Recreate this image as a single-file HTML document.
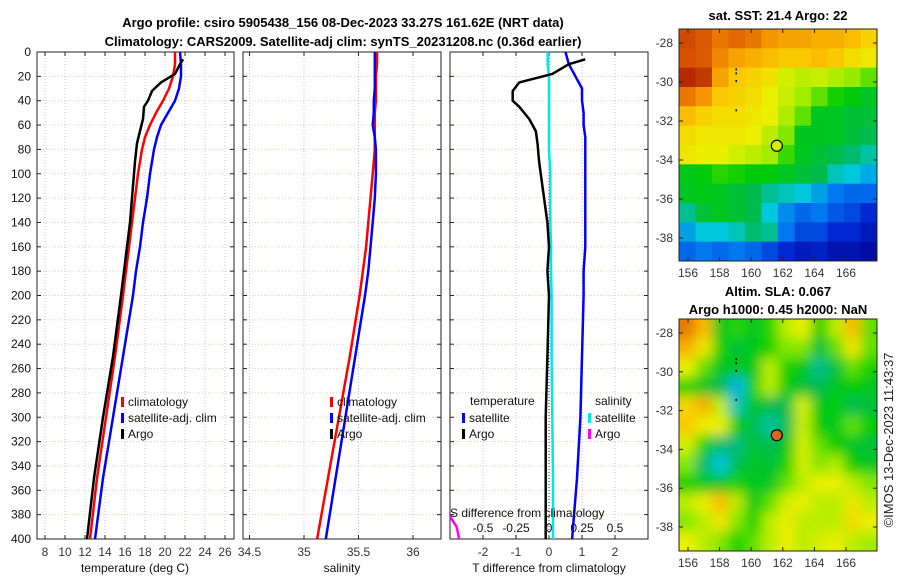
<!DOCTYPE html>
<html><head><meta charset="utf-8"><style>
html,body{margin:0;padding:0;background:#fff;}
svg{display:block;font-family:"Liberation Sans","DejaVu Sans",sans-serif;}
</style></head><body>
<svg id="c" width="900" height="580" viewBox="0 0 900 580">
<defs>
<filter id="blur" x="0" y="0" width="1" height="1"><feGaussianBlur stdDeviation="6"/></filter>
<clipPath id="cp1"><rect x="37" y="52" width="197" height="487"/></clipPath>
<clipPath id="cp2"><rect x="243" y="52" width="198" height="487"/></clipPath>
<clipPath id="cp3"><rect x="450" y="52" width="198" height="487"/></clipPath>
<clipPath id="cm1"><rect x="679" y="29" width="198" height="232"/></clipPath>
<clipPath id="cm2"><rect x="679" y="319" width="198" height="232"/></clipPath>
</defs>
<text x="343" y="27" text-anchor="middle" font-size="13" font-weight="bold">Argo profile: csiro 5905438_156 08-Dec-2023 33.27S 161.62E (NRT data)</text>
<text x="343" y="46" text-anchor="middle" font-size="13" font-weight="bold">Climatology: CARS2009. Satellite-adj clim: synTS_20231208.nc (0.36d earlier)</text>
<text x="778" y="20" text-anchor="middle" font-size="13" font-weight="bold">sat. SST: 21.4 Argo: 22</text>
<text x="778" y="296" text-anchor="middle" font-size="13" font-weight="bold">Altim. SLA: 0.067</text>
<text x="778" y="314" text-anchor="middle" font-size="13" font-weight="bold">Argo h1000: 0.45 h2000: NaN</text>
<text transform="translate(893,440) rotate(-90)" text-anchor="middle" font-size="13" fill="#222">©IMOS 13-Dec-2023 11:43:37</text>
<g id="plots"></g>
</svg>
<script>
// ---- data ----
const depths = [0,10,20,30,40,50,60,70,80,100,120,140,160,180,200,250,300,350,400];
const tempClim = [21.0,21.0,20.8,20.4,19.8,19.1,18.5,18.0,17.7,17.3,17.0,16.7,16.4,16.1,15.8,15.0,14.1,13.2,12.5];
const tempSat  = [21.5,21.6,21.6,21.4,21.0,20.3,19.6,19.2,18.9,18.5,18.2,17.8,17.5,17.1,16.8,15.8,14.8,13.8,13.0];
const argoDepths = [6,10,18,25,32,40,45,55,65,75,90,110,140,160,180,200,250,300,350,400];
const argoTemp = [21.8,21.5,21.0,19.6,18.7,18.3,17.9,17.8,17.5,17.2,17.0,16.8,16.5,16.2,15.9,15.6,14.8,13.8,12.9,12.2];
const salClim = [35.67,35.67,35.66,35.66,35.66,35.65,35.65,35.65,35.65,35.63,35.61,35.59,35.57,35.54,35.51,35.42,35.32,35.22,35.12];
const salSat  = [35.65,35.65,35.65,35.65,35.64,35.64,35.63,35.65,35.66,35.66,35.65,35.63,35.61,35.59,35.56,35.47,35.38,35.29,35.20];
const tDiffArgo = [1.1,0.6,0.1,-0.9,-1.1,-1.1,-0.9,-0.6,-0.4,-0.35,-0.3,-0.2,-0.05,0.0,-0.05,0.0,-0.05,-0.1,-0.1,-0.1];
const tDiffSat = [0.5,0.6,0.8,1.0,1.0,1.05,1.05,1.1,1.1,1.1,1.1,1.1,1.1,1.05,1.05,1.0,0.95,0.85,0.7];
const sDiffSat = [-0.01,-0.01,0.0,0.0,0.0,0.0,0.0,0.0,0.0,0.01,0.01,0.01,0.015,0.015,0.02,0.02,0.025,0.03,0.03];
const sArgoDepths = [370,380,390,400];
const sDiffArgo = [-0.8,-0.76,-0.7,-0.68];
const depthTicks = [0,20,40,60,80,100,120,140,160,180,200,220,240,260,280,300,320,340,360,380,400];
const tTicks = [8,10,12,14,16,18,20,22,24,26];
const sTicks = [34.5,35,35.5,36];
const dTicks = [-2,-1,0,1,2];
const sdTicks = [-0.5,-0.25,0,0.25,0.5];
const lonTicks = [156,158,160,162,164,166];
const latTicks = [-28,-30,-32,-34,-36,-38];
const sstGrid = [
[.86,.84,.8,.82,.8,.76,.74,.74,.72,.72,.7,.66],
[.85,.84,.78,.74,.72,.7,.68,.68,.7,.68,.64,.62],
[.9,.88,.74,.68,.66,.63,.58,.56,.57,.55,.53,.5],
[.8,.76,.68,.66,.64,.6,.57,.54,.5,.46,.44,.42],
[.7,.66,.64,.64,.62,.6,.55,.5,.42,.42,.4,.4],
[.64,.62,.62,.62,.6,.56,.52,.42,.42,.42,.4,.38],
[.62,.6,.6,.58,.56,.54,.48,.42,.4,.38,.36,.33],
[.43,.44,.47,.46,.44,.44,.42,.4,.38,.32,.3,.27],
[.42,.43,.42,.4,.38,.34,.32,.3,.26,.22,.2,.2],
[.34,.4,.42,.4,.38,.3,.24,.2,.22,.18,.16,.12],
[.26,.3,.3,.32,.36,.34,.22,.16,.16,.12,.12,.08],
[.2,.22,.2,.22,.2,.16,.12,.08,.1,.06,.06,.04]];
const slaGrid = [
[.8,.7,.42,.47,.42,.47,.56,.6,.45,.56,.7,.5],
[.72,.62,.46,.4,.43,.46,.52,.52,.4,.5,.62,.5],
[.6,.5,.42,.43,.42,.56,.46,.43,.34,.4,.5,.46],
[.47,.42,.38,.28,.46,.56,.45,.4,.38,.42,.45,.42],
[.65,.72,.56,.32,.42,.38,.38,.58,.42,.45,.38,.4],
[.68,.6,.6,.45,.38,.33,.38,.57,.45,.42,.5,.45],
[.58,.46,.36,.35,.4,.38,.42,.58,.5,.45,.42,.4],
[.52,.36,.3,.38,.42,.4,.46,.58,.52,.55,.45,.42],
[.46,.42,.42,.46,.42,.42,.5,.56,.6,.6,.56,.52],
[.56,.6,.7,.56,.43,.5,.58,.6,.56,.56,.62,.56],
[.52,.56,.62,.52,.46,.56,.6,.56,.56,.56,.64,.6],
[.6,.56,.52,.46,.5,.56,.6,.56,.58,.6,.56,.54]];
const argoLon = 161.62, argoLat = -33.27;

// ---- helpers ----
const NS='http://www.w3.org/2000/svg';
const root=document.getElementById('plots');
function mk(tag,attrs,parent){const e=document.createElementNS(NS,tag);for(const k in attrs)e.setAttribute(k,attrs[k]);(parent||root).appendChild(e);return e;}
const Y0=52,Y1=539;
const yD=d=>Y0+(d/400)*(Y1-Y0);
const xT=t=>45+(t-8)*10;
const xS=s=>304+(s-35)*109;
const xDT=v=>549+v*33;
const xDS=v=>549+v*132;
const mapX=lon=>688+(lon-156)*15.8;
const mapY1=lat=>43+(-28-lat)*19.5;
const mapY2=lat=>333+(-28-lat)*19.4;

function panel(x0,w,clip,xticks,xf,fmt,name){
  const g=mk('g',{});
  
  
  xticks.forEach(t=>{const x=xf(t);mk('line',{x1:x,x2:x,y1:Y0,y2:Y1,stroke:'#b8c4ee','stroke-width':1,'stroke-dasharray':'1,2'},g);
    mk('line',{x1:x,x2:x,y1:Y1,y2:Y1-4,stroke:'#222'},g);mk('line',{x1:x,x2:x,y1:Y0,y2:Y0+4,stroke:'#222'},g);
    const tx=mk('text',{x:x,y:556,'text-anchor':'middle','font-size':12,fill:'#333'},g);tx.textContent=fmt(t);});
  depthTicks.forEach(d=>{const y=yD(d);mk('line',{x1:x0,x2:x0+w,y1:y,y2:y,stroke:'#e8c8b8','stroke-width':1,'stroke-dasharray':'1,2'},g);
    mk('line',{x1:x0,x2:x0+4,y1:y,y2:y,stroke:'#222'},g);mk('line',{x1:x0+w,x2:x0+w-4,y1:y,y2:y,stroke:'#222'},g);});
  mk('rect',{x:x0,y:Y0,width:w,height:Y1-Y0,fill:'none',stroke:'#222','stroke-width':1},g);
  return g;
}
function line(g,xs,ds,xf,color,clip,name,w){
  const p=xs.map((v,i)=>xf(v).toFixed(1)+','+yD(ds[i]).toFixed(1)).join(' ');
  const e=mk('polyline',{points:p,fill:'none',stroke:color,'stroke-width':w||2.5,'stroke-linejoin':'round','clip-path':'url(#'+clip+')'},g);
  
  
}
function txt(g,x,y,s,size,anchor,name){const t=mk('text',{x:x,y:y,'font-size':size||12,'text-anchor':anchor||'start',fill:'#111'},g);t.textContent=s;
  
  return t;}
function legend(g,x,y,color,label,name){mk('rect',{x:x,y:y-9,width:3,height:10,fill:color},g);txt(g,x+7,y,label,12,'start',name);}

// panel 1
const g1=panel(37,197,'cp1',tTicks,xT,t=>t,'temperature-panel');
depthTicks.forEach(d=>txt(g1,31,yD(d)+4,String(d),12,'end','depth-tick-label'));
txt(g1,135,572,'temperature (deg C)',12,'middle','x-axis-title-temperature');
line(g1,tempClim,depths,xT,'#f00','cp1','temp-climatology-line');
line(g1,tempSat,depths,xT,'#00f','cp1','temp-satellite-line');
line(g1,argoTemp,argoDepths,xT,'#000','cp1','temp-argo-line');
legend(g1,121,406,'#f00','climatology','legend-climatology');
legend(g1,121,422,'#00f','satellite-adj. clim','legend-satellite');
legend(g1,121,438,'#000','Argo','legend-argo');

// panel 2
const g2=panel(243,198,'cp2',sTicks,xS,t=>t,'salinity-panel');
txt(g2,342,572,'salinity',12,'middle','x-axis-title-salinity');
line(g2,salClim,depths,xS,'#f00','cp2','sal-climatology-line');
line(g2,salSat,depths,xS,'#00f','cp2','sal-satellite-line');
legend(g2,330,406,'#f00','climatology','legend-climatology-sal');
legend(g2,330,422,'#00f','satellite-adj. clim','legend-satellite-sal');
legend(g2,330,438,'#000','Argo','legend-argo-sal');

// panel 3
const g3=panel(450,198,'cp3',dTicks,xDT,t=>t,'difference-panel');
mk('line',{x1:549,x2:549,y1:Y0,y2:Y1,stroke:'#333','stroke-width':1,'stroke-dasharray':'1,2'},g3);
txt(g3,549,572,'T difference from climatology',12,'middle','x-axis-title-tdiff');
line(g3,sDiffSat,depths,xDS,'#00e5ee','cp3','sal-diff-satellite-line');
line(g3,tDiffSat,depths,xDT,'#00f','cp3','temp-diff-satellite-line');
line(g3,tDiffArgo,argoDepths,xDT,'#000','cp3','temp-diff-argo-line');
line(g3,sDiffArgo,sArgoDepths,xDS,'#f0f','cp3','sal-diff-argo-line');
txt(g3,470,405,'temperature',12,'start','legend-title-temperature');
legend(g3,462,422,'#00f','satellite','legend-t-satellite');
legend(g3,462,438,'#000','Argo','legend-t-argo');
txt(g3,595,405,'salinity',12,'start','legend-title-salinity');
legend(g3,588,422,'#00e5ee','satellite','legend-s-satellite');
legend(g3,588,438,'#f0f','Argo','legend-s-argo');
txt(g3,450,517,'S difference from climatology',12,'start','s-axis-title');
sdTicks.forEach(t=>txt(g3,xDS(t),532,String(t),12,'middle','s-tick-label'));

// maps — custom colormap approximating the reference
const cmStops=[[0,[0,0,140]],[0.12,[0,40,210]],[0.22,[0,120,240]],[0.3,[0,200,220]],[0.37,[0,185,90]],[0.45,[0,205,0]],[0.53,[150,235,0]],[0.6,[235,240,0]],[0.68,[250,200,0]],[0.76,[245,150,0]],[0.84,[220,90,0]],[0.92,[170,25,0]],[1,[130,0,0]]];
function cmap(v){v=Math.max(0,Math.min(1,v));
  for(let i=1;i<cmStops.length;i++){if(v<=cmStops[i][0]){const a=cmStops[i-1],b=cmStops[i],f=(v-a[0])/(b[0]-a[0]);
    return 'rgb('+a[1].map((c,k)=>Math.round(c+(b[1][k]-c)*f)).join(',')+')';}}
  return 'rgb(130,0,0)';}
function map(grid,top,yf,clip,name,smooth){
  const g=mk('g',{});
  
  
  const cells=mk('g',{'clip-path':'url(#'+clip+')'},g);
  const inner=mk('g',smooth?{filter:'url(#blur)'}:{},cells);
  const rows=grid.length,cols=grid[0].length,cw=198/cols,ch=232/rows;
  const pad=smooth?20:0;
  grid.forEach((row,r)=>row.forEach((v,c)=>{
    let x=679+c*cw,y=top+r*ch,w=cw+0.5,h=ch+0.5;
    if(smooth){if(c==0){x-=pad;w+=pad;}if(c==cols-1)w+=pad;if(r==0){y-=pad;h+=pad;}if(r==rows-1)h+=pad;}
    mk('rect',{x:x,y:y,width:w,height:h,fill:cmap(v)},inner);}));
  mk('rect',{x:679,y:top,width:198,height:232,fill:'none',stroke:'#222'},g);
  lonTicks.forEach(l=>{const x=mapX(l);mk('line',{x1:x,x2:x,y1:top+232,y2:top+228,stroke:'#222'},g);mk('line',{x1:x,x2:x,y1:top,y2:top+4,stroke:'#222'},g);
    txt(g,x,top+232+16,String(l),12,'middle','lon-tick-label').setAttribute('fill','#333');});
  latTicks.forEach(l=>{const y=yf(l);mk('line',{x1:679,x2:683,y1:y,y2:y,stroke:'#222'},g);mk('line',{x1:877,x2:873,y1:y,y2:y,stroke:'#222'},g);
    txt(g,673,y+4,String(l),12,'end','lat-tick-label').setAttribute('fill','#333');});
  [[-29.3,-29.7],[-29.9,-30.1],[-31.4,-31.6]].forEach(s=>mk('line',{x1:mapX(159.05),x2:mapX(159.05),y1:yf(s[0]),y2:yf(s[1]),stroke:'#000','stroke-width':1.5,'stroke-dasharray':'2,2'},g));
  return g;
}
const m1=map(sstGrid,29,mapY1,'cm1','sst-map',false);
const mk1=mk('circle',{cx:mapX(argoLon),cy:mapY1(argoLat),r:5.5,fill:cmap(0.58),stroke:'#000','stroke-width':1.2},m1);


const m2=map(slaGrid,319,mapY2,'cm2','sla-map',true);
const mk2=mk('circle',{cx:mapX(argoLon),cy:mapY2(argoLat),r:5.5,fill:'#d9651a',stroke:'#000','stroke-width':1.2},m2);


</script>
</body></html>
